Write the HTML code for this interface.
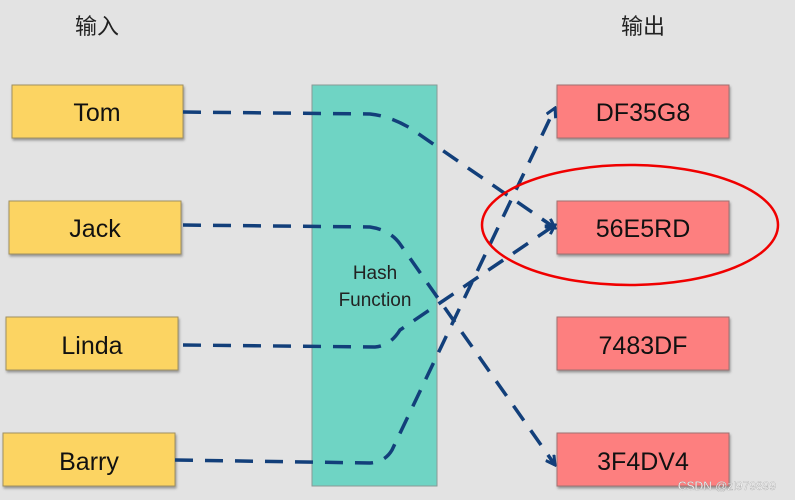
<!DOCTYPE html>
<html><head><meta charset="utf-8"><style>
body{margin:0;width:795px;height:500px;background:#e3e3e3;overflow:hidden;font-family:"Liberation Sans","Noto Sans CJK SC",sans-serif;}
</style></head><body>
<svg width="795" height="500" xmlns="http://www.w3.org/2000/svg" style="position:absolute;left:0;top:0">
<defs>
<filter id="s" x="-5%" y="-5%" width="115%" height="130%"><feDropShadow dx="1" dy="2" stdDeviation="1.2" flood-color="#000" flood-opacity="0.35"/></filter>
<marker id="a" markerWidth="12" markerHeight="12" refX="10" refY="6" orient="auto" markerUnits="userSpaceOnUse"><path d="M1,1 L10,6 L1,11" fill="none" stroke="#123f7a" stroke-width="3"/></marker>
</defs>
<text x="97" y="34" font-size="22" text-anchor="middle" fill="#222" font-family="Noto Sans CJK SC,sans-serif">输入</text>
<text x="643" y="34" font-size="22" text-anchor="middle" fill="#222" font-family="Noto Sans CJK SC,sans-serif">输出</text>
<g filter="url(#s)" stroke="#a09060" stroke-width="1">
<rect x="12" y="85" width="171" height="53" fill="#fcd462"/>
<rect x="9" y="201" width="172" height="53" fill="#fcd462"/>
<rect x="6" y="317" width="172" height="53" fill="#fcd462"/>
<rect x="3" y="433" width="172" height="53" fill="#fcd462"/>
</g>
<rect x="312" y="85" width="125" height="401" fill="#6fd4c4" stroke="#8a9a96"/>
<g filter="url(#s)" stroke="#a07070" stroke-width="1">
<rect x="557" y="85" width="172" height="53" fill="#fd7f7f"/>
<rect x="557" y="201" width="172" height="53" fill="#fd7f7f"/>
<rect x="557" y="317" width="172" height="53" fill="#fd7f7f"/>
<rect x="557" y="433" width="172" height="53" fill="#fd7f7f"/>
</g>
<g font-size="25" text-anchor="middle" fill="#111">
<text x="97" y="121">Tom</text>
<text x="95" y="237">Jack</text>
<text x="92" y="354">Linda</text>
<text x="89" y="470">Barry</text>
<text x="643" y="121">DF35G8</text>
<text x="643" y="237">56E5RD</text>
<text x="643" y="354">7483DF</text>
<text x="643" y="470">3F4DV4</text>
</g>
<text x="375" y="279" font-size="19" text-anchor="middle" fill="#222">Hash</text>
<text x="375" y="306" font-size="19" text-anchor="middle" fill="#222">Function</text>
<g fill="none" stroke="#123f7a" stroke-width="3.5" stroke-dasharray="18,12">
<path d="M183,112 L370,114 Q390,116 410,128 L555,228" marker-end="url(#a)"/>
<path d="M183,225 L370,227 Q390,230 400,244 L555,465" marker-end="url(#a)"/>
<path d="M183,345 L375,347 Q390,346 400,330 L555,225" marker-end="url(#a)"/>
<path d="M175,460 L370,463 Q385,462 392,450 L555,108" marker-end="url(#a)"/>
</g>
<ellipse cx="630" cy="225" rx="148" ry="60" fill="none" stroke="#f00000" stroke-width="2.5"/>
<text x="727" y="490" font-size="12" text-anchor="middle" fill="#fff" stroke="#999" stroke-width="0.3">CSDN @zl979899</text>
</svg>
</body></html>
